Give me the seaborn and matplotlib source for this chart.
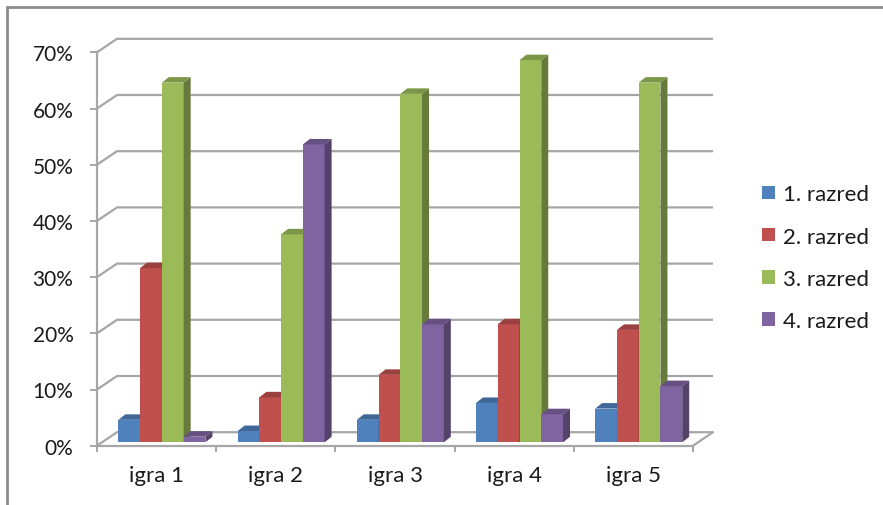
import numpy as np
import pandas as pd
import matplotlib
matplotlib.use("Agg")
import matplotlib.pyplot as plt
import matplotlib.colors as mcolors
from matplotlib.patches import Polygon, Rectangle
from matplotlib.ticker import PercentFormatter, FixedLocator
import seaborn as sns

# ---- data -------------------------------------------------------------
games = ["igra 1", "igra 2", "igra 3", "igra 4", "igra 5"]
grades = ["1. razred", "2. razred", "3. razred", "4. razred"]
razred_1 = [0.04, 0.02, 0.04, 0.07, 0.06]
razred_2 = [0.31, 0.08, 0.12, 0.21, 0.20]
razred_3 = [0.64, 0.37, 0.62, 0.68, 0.64]
razred_4 = [0.01, 0.53, 0.21, 0.05, 0.10]
y_ticks = [0.0, 0.1, 0.2, 0.3, 0.4, 0.5, 0.6, 0.7]
colors = ["#4F81BD", "#C0504D", "#9BBB59", "#8064A2"]

df = pd.DataFrame({
    "igra": games * len(grades),
    "razred": np.repeat(grades, len(games)),
    "udio": razred_1 + razred_2 + razred_3 + razred_4,
})

# ---- figure ------------------------------------------------------------
W, H, DPI = 883, 506, 100
sns.set_theme(style="white")
plt.rcParams["font.family"] = ["Lato", "DejaVu Sans"]
text_c = "#1A1A1A"
grid_c = "#A6A6A6"

fig = plt.figure(figsize=(W / DPI, H / DPI), dpi=DPI)
fig.patch.set_facecolor("white")

# outer chart frame
fig.add_artist(Rectangle((6.5 / W, -0.1), 2.0, 1 - 7.5 / H + 0.1,
                         transform=fig.transFigure, fill=False,
                         edgecolor="#8C8C8C", lw=2.0))

# front plane of the plot in pixels
x0, x1, ytop, ybot = 97, 693, 53.3, 446.7
ax = fig.add_axes([x0 / W, 1 - ybot / H, (x1 - x0) / W, (ybot - ytop) / H])

sns.barplot(data=df, x="igra", y="udio", hue="razred", hue_order=grades,
            palette=colors, saturation=1, width=0.73, errorbar=None,
            edgecolor="none", linewidth=0, ax=ax)

ax.set_xlim(-0.5, len(games) - 0.5)
ax.set_ylim(0, 0.70)
ax.set_facecolor("none")

# data units per pixel
ux = (len(games)) / (x1 - x0)
uy = 0.70 / (ybot - ytop)

# back wall gridlines with their perspective connectors
wall_dx, wall_dy = 20 * ux, 13.5 * uy
x_end = ax.get_xlim()[1] + wall_dx
for v in y_ticks:
    ax.plot([-0.5, -0.5 + wall_dx, x_end], [v, v + wall_dy, v + wall_dy],
            color=grid_c, lw=1.6, zorder=0.5, clip_on=False,
            solid_capstyle="butt")
# floor edge on the right
ax.plot([ax.get_xlim()[1], x_end], [0, wall_dy], color=grid_c, lw=1.6,
        zorder=0.5, clip_on=False)

# bars: shift into depth and add top / side faces
shift_x, shift_y = 5.3 * ux, 3.4 * uy
depth_x, depth_y = 7 * ux, 5.5 * uy


def shade(c, f):
    r, g, b = mcolors.to_rgb(c)
    return (r * f, g * f, b * f)


bars = sorted(ax.patches, key=lambda p: p.get_x())
for i, p in enumerate(bars):
    x, w, h = p.get_x(), p.get_width(), p.get_height()
    col = p.get_facecolor()
    z = 2 + i * 0.01
    nx = x + shift_x
    p.set_x(nx)
    p.set_y(shift_y)
    p.set_zorder(z)
    p.set_clip_on(False)
    top = shift_y + h
    ax.add_patch(Polygon([(nx, top), (nx + w, top),
                          (nx + w + depth_x, top + depth_y),
                          (nx + depth_x, top + depth_y)],
                         closed=True, facecolor=shade(col, 0.80),
                         edgecolor="none", zorder=z, clip_on=False))
    ax.add_patch(Polygon([(nx + w, shift_y), (nx + w + depth_x, shift_y + depth_y),
                          (nx + w + depth_x, top + depth_y), (nx + w, top)],
                         closed=True, facecolor=shade(col, 0.66),
                         edgecolor="none", zorder=z, clip_on=False))

# axes styling
for s in ["top", "right"]:
    ax.spines[s].set_visible(False)
for s in ["left", "bottom"]:
    ax.spines[s].set_color(grid_c)
    ax.spines[s].set_linewidth(1.6)
    ax.spines[s].set_zorder(0.6)

ax.yaxis.set_major_locator(FixedLocator(y_ticks))
ax.yaxis.set_major_formatter(PercentFormatter(1.0, decimals=0))
ax.tick_params(axis="y", direction="out", length=5, width=1.4,
               color=grid_c, pad=12, labelsize=15, labelcolor=text_c, left=True)
ax.set_xticks(range(len(games)))
ax.set_xticklabels(games)
ax.set_xticks(np.arange(-0.5, len(games), 1.0), minor=True)
ax.tick_params(axis="x", which="major", length=0, pad=14,
               labelsize=16, labelcolor=text_c)
ax.tick_params(axis="x", which="minor", direction="out", length=4.5,
               width=1.4, color=grid_c, bottom=True)
ax.set_xlabel("")
ax.set_ylabel("")

sns.move_legend(ax, "center left", bbox_to_anchor=(762 / W, 1 - 258.7 / H),
                bbox_transform=fig.transFigure, frameon=False, title=None,
                fontsize=16, handlelength=0.6, handleheight=0.55,
                handletextpad=0.35, labelspacing=1.0, borderpad=0,
                borderaxespad=0)
for t in ax.get_legend().get_texts():
    t.set_color(text_c)

fig.savefig("out.png", dpi=DPI)
